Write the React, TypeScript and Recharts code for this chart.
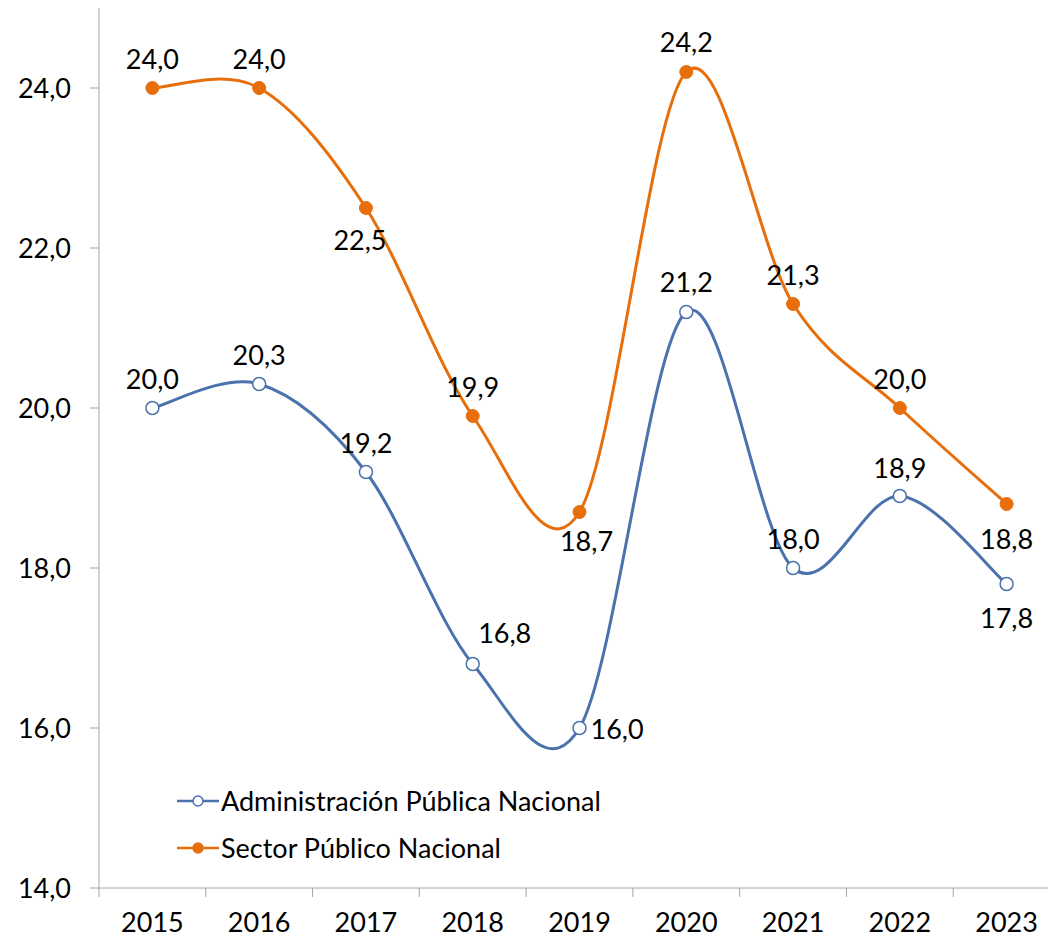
import React from 'react';
import { LineChart, Line, XAxis, YAxis, LabelList } from 'recharts';

const years = ['2015', '2016', '2017', '2018', '2019', '2020', '2021', '2022', '2023'];
const apnValues = [20.0, 20.3, 19.2, 16.8, 16.0, 21.2, 18.0, 18.9, 17.8];
const spnValues = [24.0, 24.0, 22.5, 19.9, 18.7, 24.2, 21.3, 20.0, 18.8];
const yTicks = [14, 16, 18, 20, 22, 24];

const APN_NAME = 'Administración Pública Nacional';
const SPN_NAME = 'Sector Público Nacional';

const BLUE = '#4A72AD';
const ORANGE = '#E66F0C';
const AXIS = '#A6A6A6';
const FONT = 'Lato, "Open Sans", sans-serif';
const FS = 27;

// label placement per point: [dx, dy, anchor]
const apnPlacement: [number, number, string][] = [
  [0, -30, 'middle'], [0, -30, 'middle'], [0, -30, 'middle'], [32, -32, 'middle'],
  [11, 0, 'start'], [0, -31, 'middle'], [0, -30, 'middle'], [0, -29, 'middle'], [0, 33, 'middle'],
];
const spnPlacement: [number, number, string][] = [
  [0, -30, 'middle'], [0, -30, 'middle'], [-6, 31, 'middle'], [0, -30, 'middle'],
  [7, 28, 'middle'], [0, -31, 'middle'], [0, -30, 'middle'], [0, -30, 'middle'], [0, 34, 'middle'],
];

const data = years.map((y, i) => ({ year: y, apn: apnValues[i], spn: spnValues[i] }));

const fmt = (v: number) => v.toFixed(1).replace('.', ',');

// Excel-like smoothed line (Catmull-Rom style bezier, 1/6 tension)
const excelSmooth = (context: any) => {
  let pts: [number, number][] = [];
  return {
    areaStart() {},
    areaEnd() {},
    lineStart() { pts = []; },
    point(x: number, y: number) { pts.push([+x, +y]); },
    lineEnd() {
      const n = pts.length;
      if (!n) return;
      context.moveTo(pts[0][0], pts[0][1]);
      for (let i = 0; i < n - 1; i++) {
        const p0 = pts[Math.max(0, i - 1)];
        const p1 = pts[i];
        const p2 = pts[i + 1];
        const p3 = pts[Math.min(n - 1, i + 2)];
        const c1x = p1[0] + (p2[0] - p0[0]) / 6;
        const c1y = p1[1] + (p2[1] - p0[1]) / 6;
        const c2x = p2[0] - (p3[0] - p1[0]) / 6;
        const c2y = p2[1] - (p3[1] - p1[1]) / 6;
        context.bezierCurveTo(c1x, c1y, c2x, c2y, p2[0], p2[1]);
      }
    },
  };
};

const makeLabel = (placement: [number, number, string][]) => (props: any) => {
  const { x, y, value, index } = props;
  const [dx, dy, anchor] = placement[index] || [0, -30, 'middle'];
  return (
    <text
      x={x + dx}
      y={y + dy}
      textAnchor={anchor as any}
      dominantBaseline="central"
      fontFamily={FONT}
      fontSize={FS}
      fill="#000"
    >
      {fmt(value)}
    </text>
  );
};

const XTick = (props: any) => {
  const { x, y, payload, index } = props;
  const half = payload.offset || 0;
  const axisY = y - 21;
  return (
    <g>
      <line x1={x - half} y1={axisY} x2={x - half} y2={axisY + 9} stroke={AXIS} strokeWidth={1} />
      {index === years.length - 1 && (
        <line x1={x + half} y1={axisY} x2={x + half} y2={axisY + 9} stroke={AXIS} strokeWidth={1} />
      )}
      <text x={x} y={y + 4} dy="0.71em" textAnchor="middle" fontFamily={FONT} fontSize={FS} fill="#000">
        {payload.value}
      </text>
    </g>
  );
};

const LegendBox = () => {
  const items = [
    { name: APN_NAME, color: BLUE, fill: '#fff' },
    { name: SPN_NAME, color: ORANGE, fill: ORANGE },
  ];
  return (
    <div style={{ position: 'absolute', left: 177, top: 777 }}>
      {items.map((it) => (
        <div key={it.name} style={{ display: 'flex', alignItems: 'center', height: 47 }}>
          <svg width={44} height={20} style={{ display: 'block' }}>
            <line x1={0} y1={10} x2={42} y2={10} stroke={it.color} strokeWidth={2.5} />
            <circle cx={21} cy={10} r={5} fill={it.fill} stroke={it.color} strokeWidth={1.5} />
          </svg>
          <span style={{ fontFamily: FONT, fontSize: FS, color: '#000', whiteSpace: 'nowrap', lineHeight: '47px' }}>
            {it.name}
          </span>
        </div>
      ))}
    </div>
  );
};

export default function App() {
  return (
    <div style={{ position: 'fixed', left: 0, top: 0, width: 1048, height: 937, overflow: 'hidden', background: '#fff' }}>
      <LineChart width={1060} height={937} data={data} margin={{ top: 8, right: 0, bottom: 0, left: 0 }}>
        <XAxis
          dataKey="year"
          height={49}
          stroke={AXIS}
          scale="band"
          tickLine={false}
          tickSize={9}
          tickMargin={12}
          tick={<XTick />}
          interval={0}
        />
        <YAxis
          domain={[14, 25]}
          ticks={yTicks}
          width={99}
          stroke={AXIS}
          tickSize={9}
          tickMargin={19}
          tickFormatter={fmt}
          tick={{ fill: '#000', fontFamily: FONT, fontSize: FS }}
          allowDataOverflow
        />
        <Line
          dataKey="apn"
          name={APN_NAME}
          type={excelSmooth as any}
          stroke={BLUE}
          strokeWidth={3}
          dot={{ r: 6.5, fill: '#fff', stroke: BLUE, strokeWidth: 1.5 }}
          activeDot={false}
          isAnimationActive={false}
        >
          <LabelList dataKey="apn" content={makeLabel(apnPlacement)} />
        </Line>
        <Line
          dataKey="spn"
          name={SPN_NAME}
          type={excelSmooth as any}
          stroke={ORANGE}
          strokeWidth={3}
          dot={{ r: 6.5, fill: ORANGE, stroke: ORANGE, strokeWidth: 1 }}
          activeDot={false}
          isAnimationActive={false}
        >
          <LabelList dataKey="spn" content={makeLabel(spnPlacement)} />
        </Line>
      </LineChart>
      <LegendBox />
    </div>
  );
}
